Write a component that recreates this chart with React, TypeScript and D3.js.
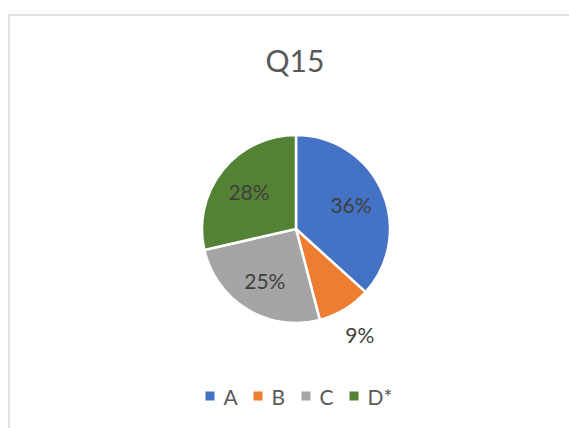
import React from "react";
import * as d3 from "d3";

const title = "Q15";
const categories = ["A", "B", "C", "D*"];
const values = [36, 9, 25, 28];
const labels = ["36%", "9%", "25%", "28%"];
const colors = ["#4472C4", "#ED7D31", "#A5A5A5", "#548235"];

const W = 569;
const H = 428;
const cx = 296;
const cy = 229;
const R = 94;
const FONT = "Lato, 'Open Sans', sans-serif";

export default function App() {
  const pie = d3.pie<number>().sort(null).value((d) => d)(values);
  const arc = d3.arc<d3.PieArcDatum<number>>().innerRadius(0).outerRadius(R);
  const inArc = d3.arc<d3.PieArcDatum<number>>().innerRadius(R * 0.64).outerRadius(R * 0.64);
  const outArc = d3.arc<d3.PieArcDatum<number>>().innerRadius(R * 1.31).outerRadius(R * 1.31);

  // legend layout
  const sq = 9;
  const gapText = 9;
  const gapItem = 17;
  const charW = (s: string) => (s === "D*" ? 27 : 13);
  const widths = categories.map((c) => sq + gapText + charW(c));
  const total = widths.reduce((a, b) => a + b, 0) + gapItem * (categories.length - 1);
  let lx = 300 - total / 2;
  const legendX = widths.map((w) => {
    const x = lx;
    lx += w + gapItem;
    return x;
  });
  const ly = 396;

  return (
    <svg
      width={W}
      height={H}
      style={{ position: "absolute", left: 0, top: 0, background: "#fff" }}
      fontFamily={FONT}
    >
      <rect x={9} y={15} width={W + 20} height={H + 20} fill="#fff" stroke="#d9d9d9" strokeWidth={1.5} />
      <text x={295} y={72} textAnchor="middle" fontSize={30} fill="#595959">
        {title}
      </text>
      <g transform={`translate(${cx},${cy})`}>
        {pie.map((p, i) => (
          <path key={i} d={arc(p) || ""} fill={colors[i]} stroke="#fff" strokeWidth={2.5} strokeLinejoin="round" />
        ))}
        {pie.map((p, i) => {
          const [x, y] = (p.data < 10 ? outArc : inArc).centroid(p);
          return (
            <text
              key={i}
              x={x}
              y={y}
              textAnchor="middle"
              dominantBaseline="central"
              fontSize={21}
              fill="#404040"
            >
              {labels[i]}
            </text>
          );
        })}
      </g>
      <g>
        {categories.map((c, i) => (
          <g key={c}>
            <rect x={legendX[i]} y={ly - sq / 2} width={sq} height={sq} fill={colors[i]} />
            <text
              x={legendX[i] + sq + gapText}
              y={ly}
              dominantBaseline="central"
              fontSize={21}
              fill="#595959"
            >
              {c}
            </text>
          </g>
        ))}
      </g>
    </svg>
  );
}
